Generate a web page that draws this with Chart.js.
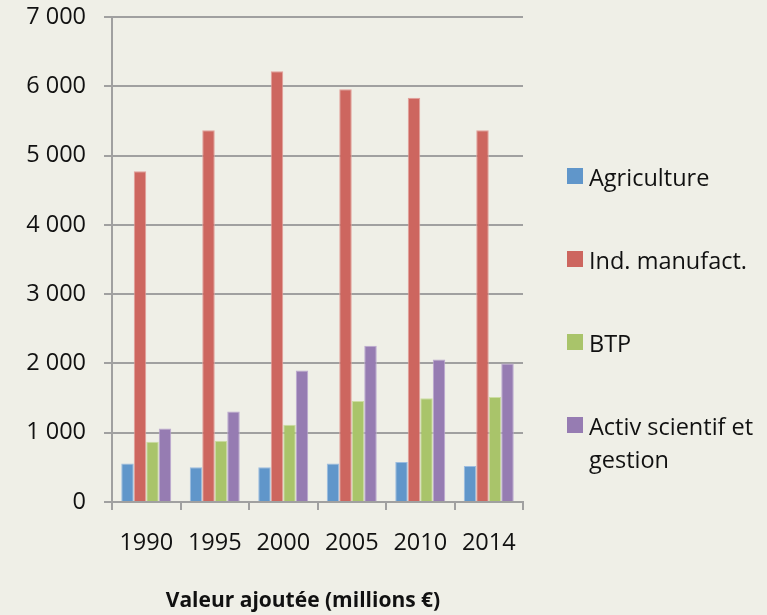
<!DOCTYPE html>
<html>
<head>
<meta charset="utf-8">
<script src="https://cdn.jsdelivr.net/npm/chart.js@4.4.1/dist/chart.umd.min.js"></script>
<style>
  html, body { margin: 0; padding: 0; background: #EFEFE7; }
  #wrap { position: relative; width: 767px; height: 615px; }
  #legend { position: absolute; left: 567px; top: 161px; width: 200px;
            font-family: "Open Sans", sans-serif; font-size: 23.5px; color: #111; }
  .item { display: flex; align-items: flex-start; line-height: 33px; margin-bottom: 50px; }
  .box { width: 16px; height: 16px; margin-top: 7px; margin-right: 6px; flex: none; }
  .txt { width: 178px; }
  #title { position: absolute; left: 0; width: 606px; top: 585px; text-align: center;
           font-family: "Open Sans", sans-serif; font-weight: bold; font-size: 21px;
           line-height: 29px; color: #111; }
</style>
</head>
<body>
<div id="wrap">
  <canvas id="chart" width="767" height="615"></canvas>
  <div id="legend"></div>
  <div id="title"></div>
</div>
<script>
// data
const years = ['1990', '1995', '2000', '2005', '2010', '2014'];
const agriculture = [557, 500, 500, 557, 576, 518];
const industrie = [4775, 5367, 6218, 5958, 5834, 5367];
const btp = [870, 885, 1115, 1456, 1499, 1514];
const activScientif = [1062, 1307, 1899, 2255, 2058, 2000];
const seriesNames = ['Agriculture', 'Ind. manufact.', 'BTP', 'Activ scientif et gestion'];
const yTicks = [0, 1000, 2000, 3000, 4000, 5000, 6000, 7000];
const chartTitle = 'Valeur ajoutée (millions €)';

const colors = ['#6096CA', '#CD665F', '#A9C46A', '#967CB2'];
const edges = ['#9BBCE0', '#E3A09A', '#CCDDA2', '#BCA9D0'];
const gridColor = '#A0A0A0';
const font = "'Open Sans', sans-serif";

const allSeries = [agriculture, industrie, btp, activScientif];

const chart = new Chart(document.getElementById('chart'), {
    type: 'bar',
    data: {
        labels: years,
        datasets: allSeries.map((vals, i) => ({
            label: seriesNames[i],
            data: vals,
            backgroundColor: colors[i],
            borderColor: edges[i],
            borderWidth: { top: 1, left: 1, right: 1, bottom: 0 },
            categoryPercentage: 0.73,
            barPercentage: 1.0
        }))
    },
    options: {
        responsive: false,
        animation: false,
        layout: { padding: { top: 17, right: 244, left: 0, bottom: 0 } },
        plugins: {
            legend: { display: false },
            title: { display: false },
            tooltip: { enabled: false }
        },
        scales: {
            x: {
                afterFit: s => { s.height = 113; s.paddingLeft = 0; s.paddingRight = 0; },
                grid: {
                    offset: true,
                    drawOnChartArea: false,
                    drawTicks: true,
                    tickLength: 8,
                    color: gridColor,
                    lineWidth: 2
                },
                border: { color: gridColor, width: 2 },
                ticks: {
                    color: '#111',
                    padding: 19,
                    font: { family: font, size: 23.5 }
                }
            },
            y: {
                min: 0,
                max: 7000,
                afterFit: s => { s.width = 112; s.paddingTop = 0; s.paddingBottom = 0; },
                afterBuildTicks: s => { s.ticks = yTicks.map(v => ({ value: v })); },
                grid: { color: gridColor, lineWidth: 2, tickLength: 8 },
                border: { color: gridColor, width: 2 },
                ticks: {
                    color: '#111',
                    padding: 18,
                    font: { family: font, size: 23.5 },
                    callback: v => String(v).replace(/\B(?=(\d{3})+(?!\d))/g, ' ')
                }
            }
        }
    }
});

// html legend (last label wraps like the original)
const legend = document.getElementById('legend');
seriesNames.forEach((name, i) => {
    const item = document.createElement('div');
    item.className = 'item';
    item.innerHTML = '<span class="box" style="background:' + colors[i] + '"></span><span class="txt">' + name + '</span>';
    legend.appendChild(item);
});
document.getElementById('title').textContent = chartTitle;
</script>
</body>
</html>
